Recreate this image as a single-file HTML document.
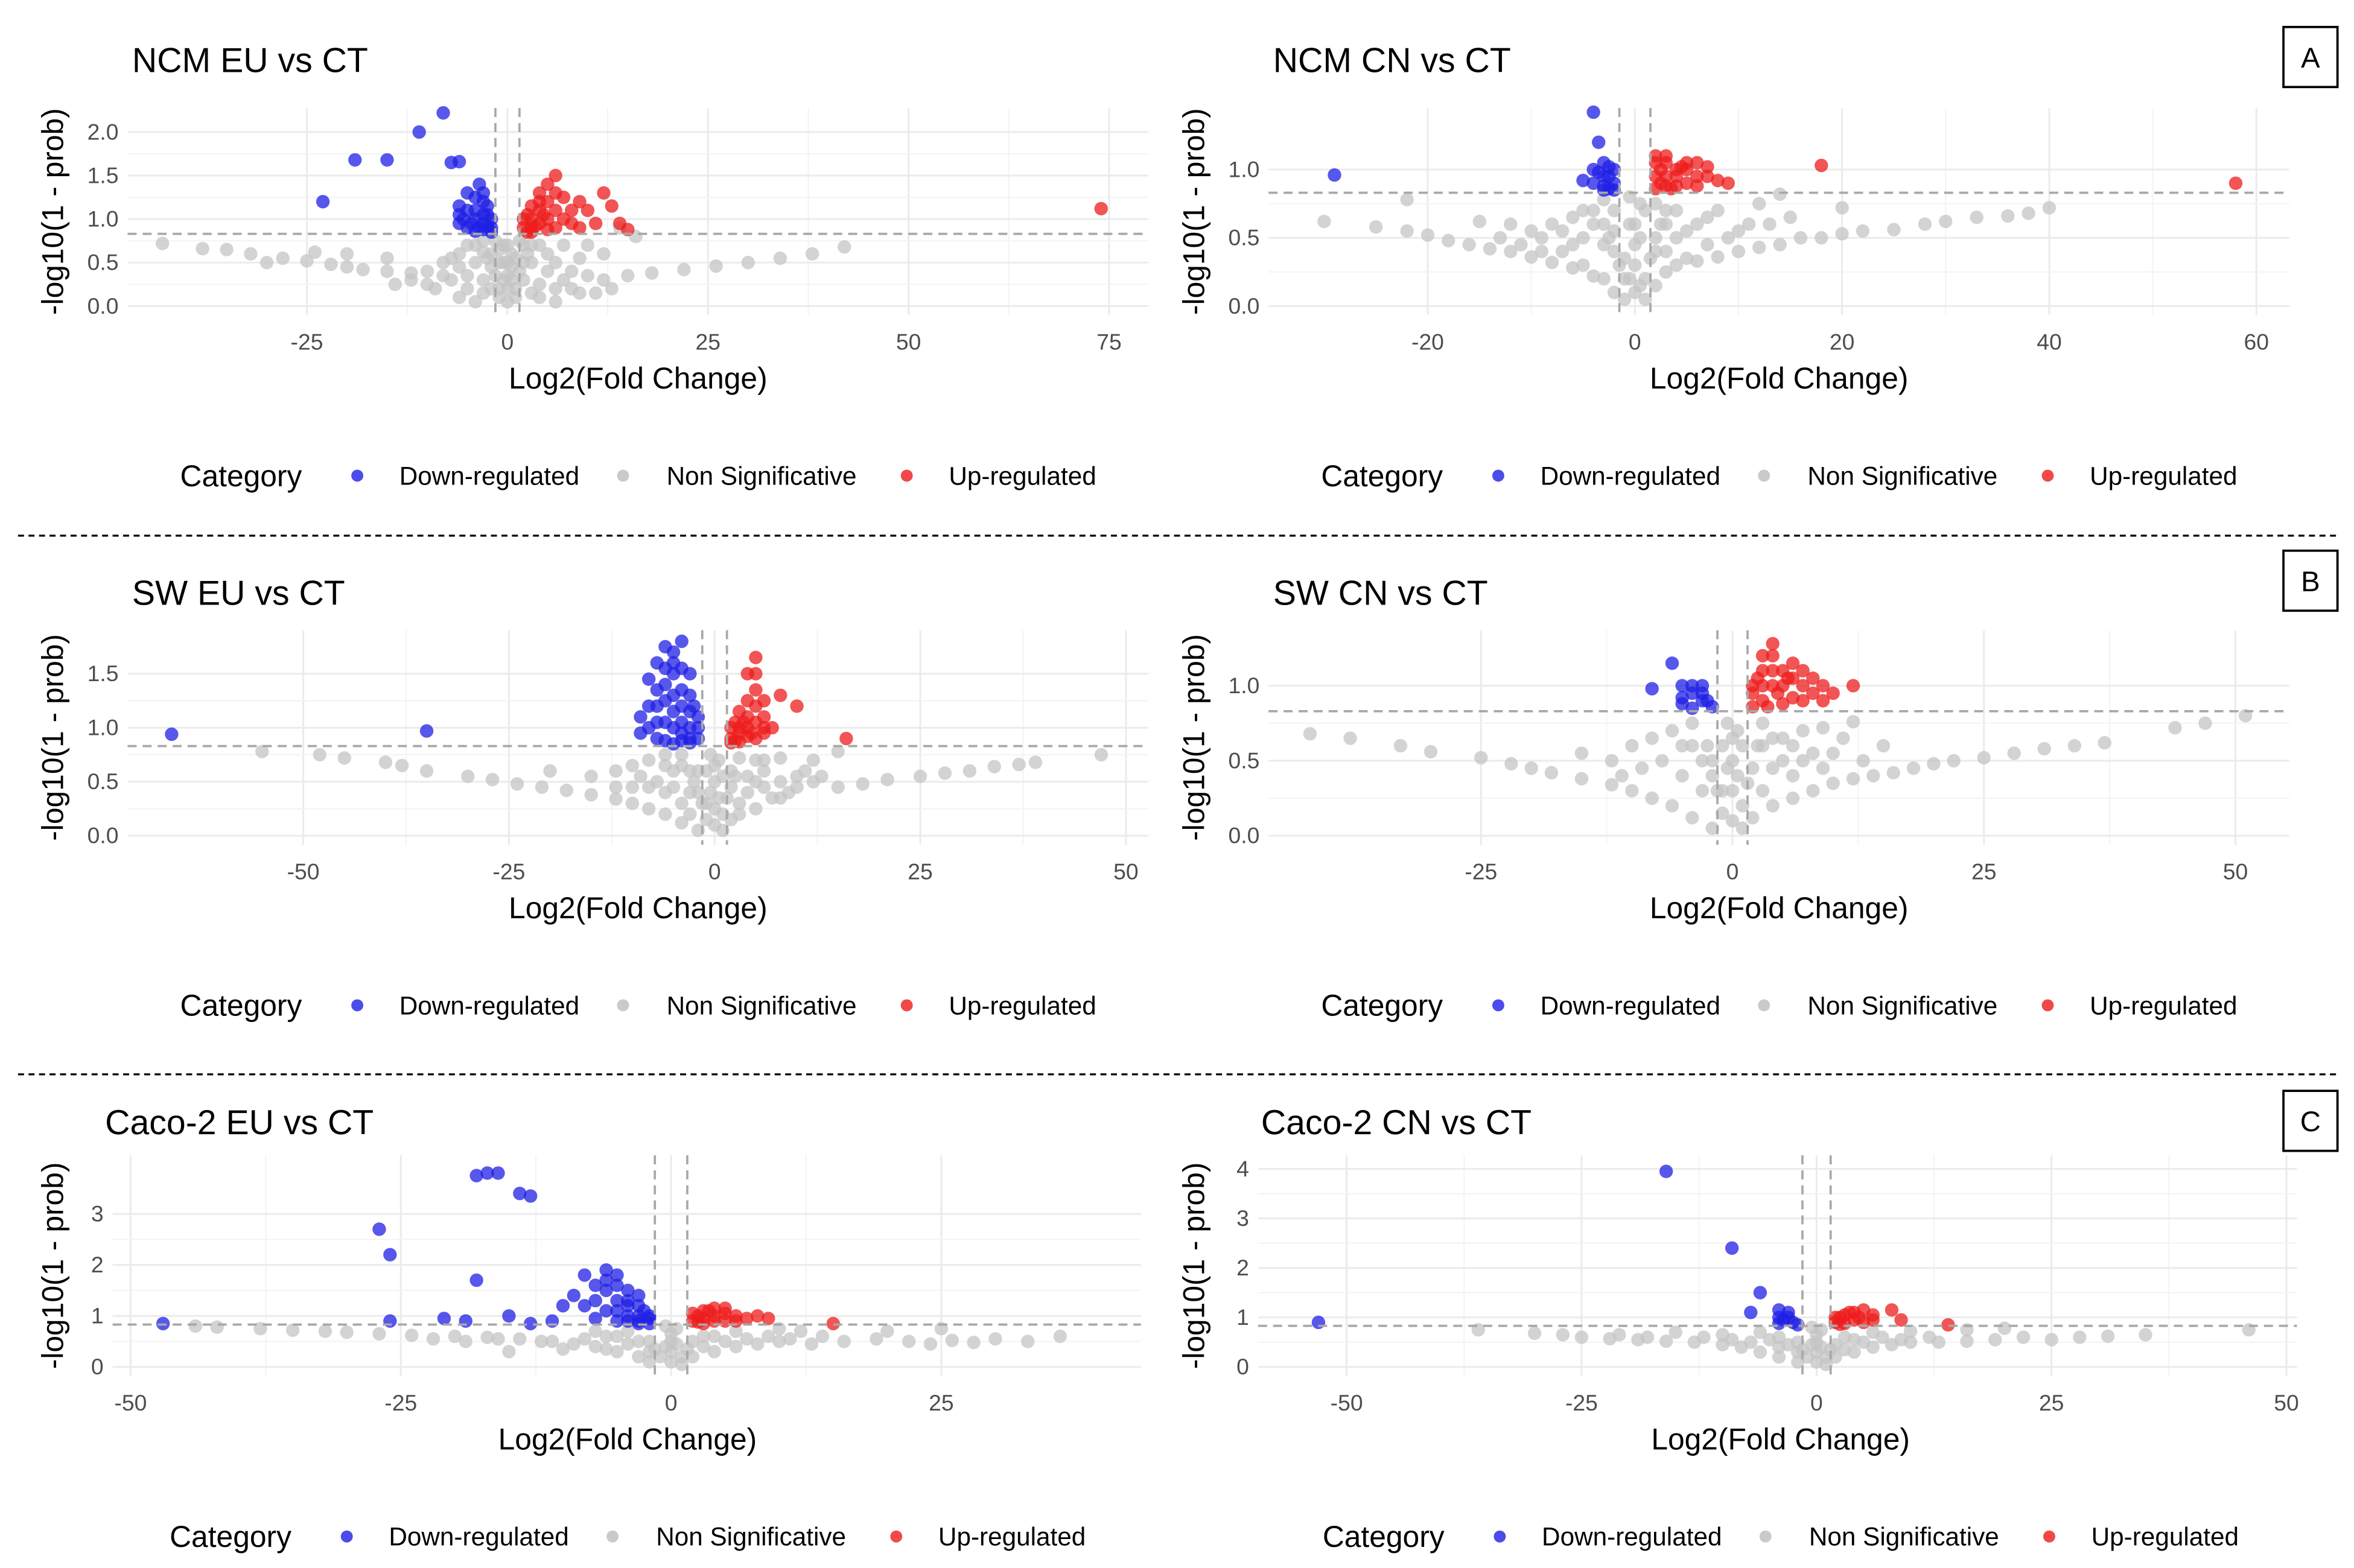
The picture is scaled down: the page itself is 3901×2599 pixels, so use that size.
<!DOCTYPE html>
<html><head><meta charset="utf-8">
<style>
html,body{margin:0;padding:0;background:#fff;}
svg{display:block;font-family:"Liberation Sans",Arial,sans-serif;}
</style></head>
<body>
<svg id="fig" width="3901" height="2599" viewBox="0 0 1568 1045" preserveAspectRatio="none" xmlns="http://www.w3.org/2000/svg">
<line x1="12" y1="357" x2="1556" y2="357" stroke="#000" stroke-width="1.3" stroke-dasharray="4,3"/>
<line x1="12" y1="716" x2="1556" y2="716" stroke="#000" stroke-width="1.3" stroke-dasharray="4,3"/>
<g><rect x="1521" y="18" width="36" height="40" fill="#fff" stroke="#000" stroke-width="1.5"/><text x="1539" y="45" font-size="19" text-anchor="middle">A</text></g>
<g><rect x="1521" y="367" width="36" height="40" fill="#fff" stroke="#000" stroke-width="1.5"/><text x="1539" y="394" font-size="19" text-anchor="middle">B</text></g>
<g><rect x="1521" y="727" width="36" height="40" fill="#fff" stroke="#000" stroke-width="1.5"/><text x="1539" y="754" font-size="19" text-anchor="middle">C</text></g>
</svg>
<script>
// ---- data (log2 fold change, -log10(1-prob)) ----
const ncmEuDown=[[-23,1.2],[-19,1.68],[-15,1.68],[-11,2.0],[-8,2.22],[-7,1.65],[-6,1.66],[-5,1.3],[-6,1.05],[-4,1.1],[-3,0.95],[-5,0.9],[-4,0.86],[-2,0.9],[-3,1.2],[-2,1.0],[-6,0.95],[-4,1.0],[-3,0.88],[-2.5,1.05],[-5,1.1],[-4,1.25],[-3.5,1.4],[-2.5,1.15],[-3,1.05],[-4.5,0.95],[-2,0.85],[-3.5,0.9],[-5.5,1.0],[-2.5,0.92],[-6,1.15],[-3,1.3]];
const ncmEuUp=[[2,0.9],[3,1.0],[4,1.2],[5,1.4],[6,1.5],[4,1.1],[7,1.25],[9,1.2],[10,1.1],[12,1.3],[13,1.15],[14,0.95],[15,0.88],[3,0.85],[6,0.9],[8,0.95],[74,1.12],[2.5,1.05],[5,1.0],[3.5,0.92],[7,1.0],[2,1.0],[3,1.15],[4,1.3],[5,1.2],[6,1.1],[3,0.9],[4,0.95],[5,0.88],[8,1.1],[2.5,0.85],[9,0.9],[11,0.95],[6,1.3],[4.5,1.05]];
const ncmEuNs=[[-43,0.72],[-38,0.66],[-35,0.65],[-32,0.6],[-28,0.55],[-25,0.52],[-22,0.48],[-20,0.45],[-18,0.42],[-15,0.4],[-12,0.38],[-10,0.4],[-8,0.5],[-6,0.6],[-5,0.7],[-4,0.5],[-3,0.3],[-2,0.2],[-1,0.1],[-2,0.6],[-1,0.5],[-3,0.75],[-15,0.55],[-20,0.6],[-30,0.5],[-24,0.62],[-10,0.25],[-7,0.3],[-5,0.2],[1,0.1],[2,0.3],[3,0.5],[4,0.7],[2,0.7],[5,0.4],[8,0.4],[10,0.35],[12,0.3],[15,0.35],[18,0.38],[22,0.42],[26,0.46],[30,0.5],[34,0.55],[38,0.6],[42,0.68],[16,0.8],[14,0.9],[10,0.7],[0,0.05],[0.5,0.3],[-0.5,0.3],[0,0.5],[6,0.2],[9,0.15],[4,0.25],[-1.5,0.75],[1.5,0.75],[-0.5,0.7],[0.5,0.6],
[-1,0.2],[-1.5,0.35],[-2,0.45],[-2.5,0.55],[-3,0.62],[-4,0.7],[-6,0.45],[-8,0.35],[-12,0.3],[-14,0.25],[-9,0.2],[-6,0.1],[-4,0.05],[-3,0.15],[-5,0.35],[-7,0.55],[1,0.2],[1.5,0.4],[2,0.5],[2.5,0.6],[3,0.7],[5,0.6],[6,0.5],[7,0.3],[8,0.2],[11,0.15],[13,0.2],[4,0.1],[6,0.05],[3,0.15],[9,0.55],[12,0.6],[7,0.7],[0,0.2],[0,0.35],[-0.5,0.5],[0.5,0.45],[0,0.7],[-1,0.65],[1,0.55]];

const ncmCnDown=[[-29,0.96],[-4,1.42],[-3.5,1.2],[-3,1.05],[-2.5,0.95],[-4,0.9],[-3,0.88],[-2,1.0],[-5,0.92],[-2.5,0.86],[-3.5,0.98],[-2,0.9],[-3,0.95],[-2.5,1.02],[-4,1.0],[-2,0.85],[-3,0.85]];
const ncmCnUp=[[2,1.05],[3,1.1],[4,1.0],[5,1.0],[6,0.95],[7,1.02],[8,0.92],[9,0.9],[2.5,0.9],[4,0.88],[18,1.03],[58,0.9],[3,0.95],[5,0.9],[2,0.86],[6,1.05],[2,0.95],[3,1.05],[4,0.95],[5,1.05],[6,0.88],[7,0.95],[2.5,1.0],[3.5,0.86],[4.5,1.02],[3,0.88],[2,1.1]];
const ncmCnNs=[[-30,0.62],[-25,0.58],[-22,0.55],[-20,0.52],[-18,0.48],[-16,0.45],[-14,0.42],[-12,0.4],[-10,0.36],[-8,0.32],[-6,0.28],[-4,0.22],[-2,0.1],[-1,0.05],[-22,0.78],[-15,0.62],[-12,0.6],[-10,0.55],[-8,0.6],[-6,0.65],[-5,0.7],[-4,0.6],[-3,0.45],[-2,0.55],[-1,0.35],[-3,0.78],[1,0.05],[2,0.15],[3,0.25],[4,0.3],[6,0.33],[8,0.36],[10,0.4],[12,0.43],[14,0.45],[16,0.5],[18,0.5],[20,0.53],[22,0.55],[25,0.56],[28,0.6],[30,0.62],[33,0.65],[36,0.66],[38,0.68],[40,0.72],[2,0.5],[3,0.6],[4,0.5],[6,0.6],[8,0.7],[10,0.55],[12,0.75],[14,0.82],[20,0.72],[1,0.7],[0,0.3],[0,0.6],[-0.5,0.8],[0.5,0.75],
[-1,0.2],[-1.5,0.3],[-2,0.4],[-2.5,0.5],[-3,0.6],[-4,0.7],[-5,0.5],[-6,0.45],[-7,0.55],[-9,0.5],[-11,0.45],[-13,0.5],[-5,0.3],[-7,0.4],[-9,0.4],[-3,0.2],[-2,0.7],[1,0.2],[1.5,0.35],[2,0.4],[2.5,0.6],[3,0.7],[4,0.7],[5,0.55],[5,0.35],[7,0.45],[9,0.5],[11,0.6],[13,0.6],[15,0.65],[7,0.65],[3,0.4],[2,0.75],[0,0.1],[0,0.45],[-0.5,0.2],[0.5,0.15],[-0.5,0.6],[0.5,0.5]];

const swEuDown=[[-66,0.94],[-35,0.97],[-7,1.6],[-6,1.75],[-5,1.7],[-4,1.8],[-8,1.45],[-6,1.4],[-5,1.3],[-4,1.2],[-3,1.5],[-7,1.2],[-6,1.05],[-5,1.0],[-4,0.95],[-3,0.9],[-2,1.1],[-8,1.0],[-9,1.1],[-3,1.3],[-2,0.9],[-4,1.55],[-7,1.35],[-6,1.55],[-5,1.5],[-4,1.35],[-3,1.15],[-2,1.0],[-7,0.9],[-6,0.88],[-5,0.85],[-4,1.05],[-3,1.0],[-8,1.2],[-6,1.25],[-5,1.15],[-4,0.88],[-3,0.86],[-2.5,1.2],[-7,1.05],[-9,0.95],[-5,1.6]];
const swEuUp=[[2,0.9],[3,1.0],[4,1.1],[5,1.35],[5,1.65],[4,1.5],[6,1.25],[7,1.0],[8,1.3],[10,1.2],[3,0.87],[4,0.92],[6,0.95],[16,0.9],[2.5,1.05],[5,1.05],[2,1.0],[3,1.15],[4,1.25],[5,1.2],[6,1.1],[3,0.95],[4,1.0],[5,0.9],[2.5,0.88],[3.5,1.05],[4.5,0.95],[6,1.0],[2,0.86],[5,1.5]];
const swEuNs=[[-55,0.78],[-48,0.75],[-45,0.72],[-40,0.68],[-38,0.65],[-35,0.6],[-30,0.55],[-27,0.52],[-24,0.48],[-21,0.45],[-18,0.42],[-15,0.38],[-12,0.34],[-10,0.3],[-8,0.25],[-6,0.2],[-4,0.12],[-2,0.05],[-20,0.6],[-15,0.55],[-12,0.6],[-10,0.65],[-8,0.7],[-6,0.75],[-4,0.65],[-3,0.4],[-2,0.6],[-1,0.3],[0,0.1],[1,0.05],[2,0.15],[3,0.3],[4,0.4],[6,0.45],[8,0.5],[10,0.55],[12,0.5],[15,0.45],[18,0.48],[21,0.52],[25,0.55],[28,0.58],[31,0.6],[34,0.64],[37,0.66],[39,0.68],[47,0.75],[2,0.6],[3,0.72],[5,0.7],[8,0.72],[12,0.7],[15,0.78],[0,0.5],[-0.5,0.75],[0.5,0.7],[5,0.25],[8,0.35],
[-1,0.15],[-1.5,0.3],[-2,0.4],[-2.5,0.5],[-3,0.6],[-4,0.3],[-5,0.45],[-5,0.6],[-6,0.4],[-7,0.5],[-8,0.45],[-9,0.55],[-10,0.45],[-12,0.45],[-6,0.65],[-4,0.75],[-3,0.2],[1,0.2],[1.5,0.35],[2,0.45],[2.5,0.55],[3,0.2],[4,0.55],[5,0.5],[6,0.6],[7,0.35],[9,0.4],[10,0.45],[11,0.6],[13,0.55],[6,0.7],[0,0.25],[0,0.65],[-0.5,0.4],[0.5,0.35],[-1,0.6],[1,0.55]];

const swCnDown=[[-6,1.15],[-8,0.98],[-5,1.0],[-4,0.95],[-3,0.9],[-4,0.85],[-5,0.88],[-3,1.0],[-2,0.86],[-4,1.0],[-3,0.95],[-2.5,0.9],[-5,0.92]];
const swCnUp=[[2,1.0],[3,1.1],[4,1.2],[4,1.28],[5,1.1],[6,1.05],[7,1.0],[8,0.95],[9,0.9],[10,0.95],[12,1.0],[3,0.9],[5,0.88],[2,0.86],[6,0.92],[4,1.0],[8,1.05],[2,0.95],[3,1.0],[4,1.1],[5,1.0],[6,1.15],[7,0.9],[2.5,1.05],[3.5,0.86],[4.5,0.95],[5.5,1.05],[7,1.1],[9,1.0],[3,1.2]];
const swCnNs=[[-42,0.68],[-38,0.65],[-33,0.6],[-30,0.56],[-25,0.52],[-22,0.48],[-20,0.45],[-18,0.42],[-15,0.38],[-12,0.34],[-10,0.3],[-8,0.25],[-6,0.2],[-4,0.12],[-2,0.05],[-15,0.55],[-12,0.5],[-10,0.6],[-8,0.65],[-6,0.7],[-4,0.6],[-2,0.5],[-1,0.3],[0,0.1],[1,0.05],[2,0.12],[4,0.2],[6,0.25],[8,0.3],[10,0.35],[12,0.38],[14,0.4],[16,0.42],[18,0.45],[20,0.48],[22,0.5],[25,0.52],[28,0.55],[31,0.58],[34,0.6],[37,0.62],[44,0.72],[47,0.75],[51,0.8],[3,0.6],[5,0.65],[7,0.7],[9,0.72],[12,0.76],[15,0.6],[0,0.5],[-0.5,0.75],[0.5,0.7],[4,0.45],[8,0.55],
[-1,0.15],[-1.5,0.3],[-2,0.4],[-2.5,0.6],[-3,0.5],[-3,0.3],[-5,0.4],[-5,0.6],[-7,0.5],[-9,0.45],[-11,0.4],[-4,0.75],[1,0.2],[1.5,0.35],[2,0.45],[2.5,0.6],[3,0.3],[3,0.75],[4,0.65],[5,0.5],[6,0.4],[6,0.6],[7,0.5],[9,0.45],[10,0.55],[11,0.65],[13,0.5],[0,0.3],[0,0.65],[-0.5,0.45],[0.5,0.4],[1,0.6],[-1,0.6]];

const cacoEuDown=[[-47,0.85],[-27,2.7],[-26,2.2],[-26,0.9],[-21,0.95],[-19,0.9],[-18,3.75],[-17,3.8],[-16,3.8],[-14,3.4],[-13,3.35],[-18,1.7],[-15,1.0],[-13,0.85],[-11,0.9],[-10,1.2],[-9,1.4],[-8,1.8],[-7,1.6],[-6,1.9],[-5,1.8],[-4,1.5],[-3,1.2],[-2,1.0],[-8,1.2],[-6,1.1],[-5,0.9],[-4,1.0],[-3,0.9],[-7,0.95],[-2,0.85],[-6,1.5],[-5,1.6],[-4,1.3],[-3,1.0],[-5,1.3],[-4,1.2],[-3,1.4],[-2.5,1.1],[-6,1.7],[-5,1.1],[-4,0.9],[-3,0.85],[-2,0.95],[-7,1.3]];
const cacoEuUp=[[2,0.9],[3,1.1],[4,1.15],[5,1.05],[6,1.0],[7,0.95],[9,0.95],[3,0.85],[5,0.9],[15,0.85],[2.5,1.0],[4,0.9],[2,1.05],[3,0.95],[4,1.0],[5,1.15],[6,0.9],[3.5,1.1],[2.5,0.88],[8,1.0]];
const cacoEuNs=[[-44,0.8],[-42,0.78],[-38,0.75],[-35,0.72],[-32,0.7],[-30,0.68],[-27,0.65],[-24,0.62],[-20,0.6],[-17,0.58],[-14,0.55],[-11,0.5],[-9,0.45],[-7,0.4],[-5,0.3],[-3,0.2],[-2,0.1],[-15,0.3],[-10,0.35],[-6,0.6],[-4,0.7],[-2,0.5],[0,0.1],[1,0.05],[2,0.2],[4,0.3],[6,0.4],[8,0.45],[10,0.5],[13,0.45],[16,0.5],[19,0.55],[22,0.5],[24,0.45],[26,0.52],[28,0.48],[30,0.55],[33,0.5],[36,0.6],[3,0.6],[6,0.7],[10,0.75],[20,0.7],[25,0.75],[0,0.5],[-0.5,0.8],[0.5,0.75],
[-1,0.2],[-1.5,0.35],[-2,0.3],[-3,0.5],[-4,0.45],[-5,0.6],[-6,0.35],[-8,0.55],[-12,0.5],[-16,0.55],[-19,0.5],[-22,0.55],[-7,0.7],[1,0.2],[1.5,0.35],[2,0.5],[3,0.4],[4,0.6],[5,0.5],[7,0.55],[9,0.6],[11,0.55],[14,0.6],[12,0.7],[0,0.3],[0,0.65],[-0.5,0.4],[0.5,0.45]];

const cacoCnDown=[[-53,0.9],[-16,3.95],[-9,2.4],[-6,1.5],[-7,1.1],[-4,1.15],[-3,1.0],[-2.5,0.9],[-4,0.88],[-3,1.1],[-3.5,0.95],[-2,0.85],[-4,1.0]];
const cacoCnUp=[[2,0.9],[3,1.05],[4,1.1],[5,1.15],[6,0.95],[8,1.15],[9,0.95],[14,0.85],[3,0.88],[2.5,1.0],[5,0.9],[2,1.0],[3.5,1.1],[4,0.95],[4.5,1.0],[6,1.05],[2.5,0.86]];
const cacoCnNs=[[-36,0.75],[-30,0.68],[-27,0.65],[-25,0.6],[-22,0.57],[-19,0.55],[-16,0.52],[-13,0.5],[-10,0.45],[-8,0.4],[-6,0.3],[-4,0.2],[-2,0.1],[-15,0.7],[-10,0.65],[-6,0.7],[-4,0.6],[-2,0.5],[0,0.1],[1,0.05],[2,0.2],[4,0.3],[6,0.4],[8,0.45],[10,0.5],[13,0.5],[16,0.52],[19,0.55],[22,0.6],[25,0.55],[28,0.6],[31,0.62],[35,0.65],[46,0.75],[3,0.6],[6,0.7],[10,0.72],[16,0.75],[20,0.78],[0,0.5],[-0.5,0.8],[0.5,0.75],
[-1,0.2],[-1.5,0.35],[-2,0.3],[-3,0.45],[-4,0.4],[-5,0.55],[-7,0.5],[-9,0.55],[-12,0.6],[-18,0.6],[-21,0.65],[1,0.2],[1.5,0.35],[2,0.45],[3,0.35],[4,0.55],[5,0.5],[7,0.6],[9,0.55],[12,0.6],[0,0.3],[0,0.65],[-0.5,0.45],[0.5,0.4]];

const xTicksA1=[-25,0,25,50,75], yTicksA1=[0,0.5,1,1.5,2];
const xTicksA2=[-20,0,20,40,60], yTicksA2=[0,0.5,1];
const xTicksB1=[-50,-25,0,25,50], yTicksB1=[0,0.5,1,1.5];
const xTicksB2=[-25,0,25,50], yTicksB2=[0,0.5,1];
const xTicksC1=[-50,-25,0,25], yTicksC1=[0,1,2,3];
const xTicksC2=[-50,-25,0,25,50], yTicksC2=[0,1,2,3,4];

// ---- layout ----
const NS="http://www.w3.org/2000/svg";
const svg=document.getElementById('fig');
function mk(tag,attrs,parent){const e=document.createElementNS(NS,tag);for(const k in attrs)e.setAttribute(k,attrs[k]);(parent||svg).appendChild(e);return e;}
function fmt(v,dec){return v.toFixed(dec);}
const panels=[
 {id:'ncm-eu',title:'NCM EU vs CT',tx:88,ty:48,L:85,R:765,T:72,B:210,x0:338,xs:133.6/25,y0:204,ys:58,xt:xTicksA1,yt:yTicksA1,yd:1,thr:0.83,vl:1.5,down:ncmEuDown,ns:ncmEuNs,up:ncmEuUp,xtY:233,axY:259,axX:425,ylX:42,legY:317,legX:120},
 {id:'ncm-cn',title:'NCM CN vs CT',tx:848,ty:48,L:845,R:1525,T:72,B:210,x0:1089,xs:138/20,y0:204,ys:91,xt:xTicksA2,yt:yTicksA2,yd:1,thr:0.83,vl:1.5,down:ncmCnDown,ns:ncmCnNs,up:ncmCnUp,xtY:233,axY:259,axX:1185,ylX:802,legY:317,legX:880},
 {id:'sw-eu',title:'SW EU vs CT',tx:88,ty:403,L:85,R:765,T:420,B:563,x0:476,xs:137/25,y0:557,ys:72,xt:xTicksB1,yt:yTicksB1,yd:1,thr:0.83,vl:1.5,down:swEuDown,ns:swEuNs,up:swEuUp,xtY:586,axY:612,axX:425,ylX:42,legY:670,legX:120},
 {id:'sw-cn',title:'SW CN vs CT',tx:848,ty:403,L:845,R:1525,T:420,B:563,x0:1154,xs:167.5/25,y0:557,ys:100,xt:xTicksB2,yt:yTicksB2,yd:1,thr:0.83,vl:1.5,down:swCnDown,ns:swCnNs,up:swCnUp,xtY:586,axY:612,axX:1185,ylX:802,legY:670,legX:880},
 {id:'caco-eu',title:'Caco-2  EU vs CT',tx:70,ty:756,L:75,R:760,T:770,B:917,x0:447,xs:180/25,y0:911,ys:34,xt:xTicksC1,yt:yTicksC1,yd:0,thr:0.83,vl:1.5,down:cacoEuDown,ns:cacoEuNs,up:cacoEuUp,xtY:940,axY:966,axX:418,ylX:42,legY:1024,legX:113},
 {id:'caco-cn',title:'Caco-2  CN vs CT',tx:840,ty:756,L:838,R:1530,T:770,B:917,x0:1210,xs:156.5/25,y0:911,ys:33,xt:xTicksC2,yt:yTicksC2,yd:0,thr:0.83,vl:1.5,down:cacoCnDown,ns:cacoCnNs,up:cacoCnUp,xtY:940,axY:966,axX:1186,ylX:802,legY:1024,legX:881}
];
panels.forEach(p=>{
 const g=mk('g',{});
 
 
 const X=v=>p.x0+v*p.xs, Y=v=>p.y0-v*p.ys;
 p.xt.forEach((v,i)=>{
  const gl=mk('line',{x1:X(v),x2:X(v),y1:p.T,y2:p.B,stroke:'#ebebeb','stroke-width':1.2},g);
  
  
  if(i<p.xt.length-1){const m=(v+p.xt[i+1])/2; if(X(m)<p.R) mk('line',{x1:X(m),x2:X(m),y1:p.T,y2:p.B,stroke:'#f3f3f3','stroke-width':0.8},g);}
  const t=mk('text',{x:X(v),y:p.xtY,'font-size':15,fill:'#4d4d4d','text-anchor':'middle'},g);
  t.textContent=String(v);
  
  
 });
 p.yt.forEach((v,i)=>{
  const gl=mk('line',{x1:p.L,x2:p.R,y1:Y(v),y2:Y(v),stroke:'#ebebeb','stroke-width':1.2},g);
  
  
  if(i<p.yt.length-1){const m=(v+p.yt[i+1])/2; mk('line',{x1:p.L,x2:p.R,y1:Y(m),y2:Y(m),stroke:'#f3f3f3','stroke-width':0.8},g);}
  const t=mk('text',{x:p.L-6,y:Y(v)+5,'font-size':15,fill:'#4d4d4d','text-anchor':'end'},g);
  t.textContent=fmt(v,p.yd);
  
  
 });
 const draw=(arr,col,name)=>arr.forEach(d=>{
  const c=mk('circle',{cx:X(d[0]),cy:Y(d[1]),r:4.5,fill:col,'fill-opacity':0.75},g);
  
  
 });
 draw(p.ns,'#c4c4c4','point-non-significative');
 draw(p.down,'#1f1fe6','point-down-regulated');
 draw(p.up,'#ee1c1c','point-up-regulated');
 const th=mk('line',{x1:p.L,x2:p.R,y1:Y(p.thr),y2:Y(p.thr),stroke:'#a8a8a8','stroke-width':1.5,'stroke-dasharray':'6,4'},g);
 
 
 [-p.vl,p.vl].forEach(v=>{
  const l=mk('line',{x1:X(v),x2:X(v),y1:p.T,y2:p.B,stroke:'#a8a8a8','stroke-width':1.5,'stroke-dasharray':'6,4'},g);
  
  
 });
 const tt=mk('text',{x:p.tx,y:p.ty,'font-size':23,fill:'#000'},g);
 tt.textContent=p.title;
 
 
 const ax=mk('text',{x:p.axX,y:p.axY,'font-size':20,fill:'#000','text-anchor':'middle'},g);
 ax.textContent='Log2(Fold Change)';
 
 
 const cy=(p.T+p.B)/2;
 const yl=mk('text',{x:p.ylX,y:cy,'font-size':20,fill:'#000','text-anchor':'middle',transform:`rotate(-90 ${p.ylX} ${cy})`},g);
 yl.textContent='-log10(1 - prob)';
 
 
 const lg=mk('g',{},g);
 
 
 const lt=mk('text',{x:p.legX,y:p.legY+7,'font-size':20,fill:'#000'},lg);
 lt.textContent='Category';
 const items=[['Down-regulated','#1f1fe6',118,146],['Non Significative','#bdbdbd',295,324],['Up-regulated','#ee1c1c',484,512]];
 items.forEach(it=>{
  const e=mk('g',{},lg);
  
  
  mk('circle',{cx:p.legX+it[2],cy:p.legY,r:4,fill:it[1],'fill-opacity':0.8},e);
  const tx=mk('text',{x:p.legX+it[3],y:p.legY+6,'font-size':17,fill:'#000'},e);
  tx.textContent=it[0];
 });
});
</script>
</body></html>
